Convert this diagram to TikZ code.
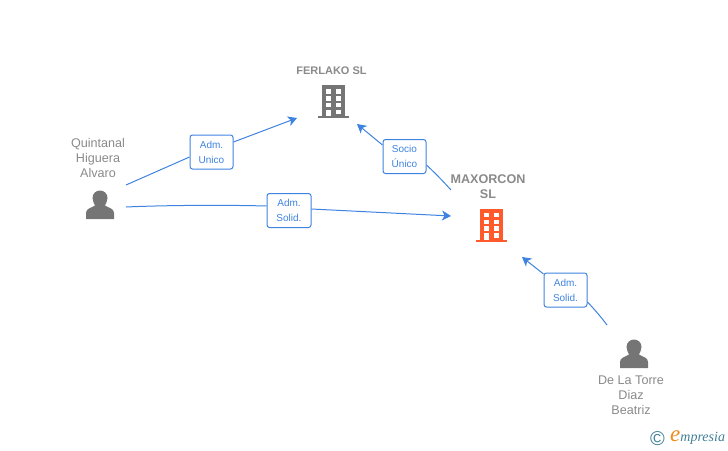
\documentclass[tikz,border=0pt]{standalone}
\usepackage{fontspec}
\setmainfont{Liberation Sans}
\newfontfamily\logofont{Liberation Serif}
\usetikzlibrary{arrows.meta}
\definecolor{linkblue}{HTML}{3F83E0}
\definecolor{labelgrey}{HTML}{8A8A8A}
\definecolor{icongrey}{HTML}{757575}
\definecolor{iconorange}{HTML}{FF5A2B}
\definecolor{logoteal}{HTML}{3F7F96}
\definecolor{logoorange}{HTML}{F08A1D}
\tikzset{
  x=1pt,y=-1pt,
  link/.style={draw=linkblue,line width=1pt},
  linkarrow/.style={link,-{Stealth[length=9pt,width=10pt,inset=2.5pt]}},
  tagbox/.style={draw=linkblue,fill=white,rounded corners=2.5pt,line width=1pt,minimum width=43pt,minimum height=34pt,inner sep=0pt,align=center,text=linkblue,font=\fontsize{10}{15}\selectfont},
  caption/.style={text=labelgrey,align=center,inner sep=0pt,font=\fontsize{12.6}{15}\selectfont},
  capbold/.style={caption,font=\fontsize{12.6}{15}\selectfont\bfseries},
  anchorbox/.style={inner sep=0pt,minimum width=34pt,minimum height=34pt},
  personicon/.pic={
    \fill[icongrey] (-14,14) -- (-14,8) .. controls (-14,3.5) and (-9,3) .. (-5,0.5) .. controls (-6,-2) and (-7.5,-4) .. (-7.5,-7)
      .. controls (-7.5,-11.5) and (-4,-14.5) .. (0,-14.5) .. controls (4,-14.5) and (7.5,-11.5) .. (7.5,-7)
      .. controls (7.5,-4) and (6,-2) .. (5,0.5) .. controls (9,3) and (14,3.5) .. (14,8) -- (14,14) -- cycle;
  },
  buildingicon/.pic={
    \fill[pic actions] (-11.5,-16.5) rectangle (11.5,15);
    \fill[pic actions] (-15.5,14.5) rectangle (15.5,16.5);
    \foreach \yy in {-12.5,-5.5,1}{
      \fill[white] (-7.5,\yy) rectangle (-2.5,\yy+4.5);
      \fill[white] (2.5,\yy) rectangle (7.5,\yy+4.5);
    }
    \fill[white] (2.5,8) rectangle (7.5,12.5);
    \fill[white] (-7.5,8) rectangle (-2.5,14.5);
  }
}
\begin{document}
\begin{tikzpicture}
\useasboundingbox (0,0) rectangle (728,450);
% icons
\node[anchorbox] (ferlako) at (333.5,101.5) {};
\pic[fill=icongrey] at (333.5,101.5) {buildingicon};
\node[anchorbox] (maxorcon) at (491,225) {};
\pic[fill=iconorange] at (491,225) {buildingicon};
\node[anchorbox] (quintanal) at (100,205) {};
\pic at (100,205) {personicon};
\node[anchorbox] (delatorre) at (634,354) {};
\pic at (634,354) {personicon};
% captions
\node[capbold,font=\fontsize{11}{15}\selectfont\bfseries] (capf) at (331.5,71) {FERLAKO SL};
\node[capbold] (capm) at (488,186.5) {MAXORCON\\SL};
\node[caption] (capq) at (98,158) {Quintanal\\Higuera\\Alvaro};
\node[caption] (capd) at (631,395.5) {De La Torre\\Diaz\\Beatriz};
% free ends of connectors
\coordinate (q1) at (126,185);
\coordinate (q2) at (126,207);
\coordinate (f1) at (297,118);
\coordinate (f2) at (357,124);
\coordinate (m1) at (451,216);
\coordinate (m2) at (451,190);
\coordinate (m3) at (522,257);
\coordinate (d1) at (607,325);
% label boxes
\node[tagbox,minimum width=43pt] (t1) at (211.5,152) {Adm.\\Unico};
\node[tagbox,minimum width=44pt] (t2) at (289,210.5) {Adm.\\Solid.};
\node[tagbox,minimum width=43pt] (t3) at (404.5,156.5) {Socio\\Único};
\node[tagbox,minimum width=43pt] (t4) at (565.5,290) {Adm.\\Solid.};
% connectors
\draw[link] (q1) -- (t1.west |- 0,157);
\draw[linkarrow] (t1.east |- 0,142) -- (f1);
\draw[link] (q2) .. controls (170,205) and (230,205) .. (t2.west |- 0,206);
\draw[linkarrow] (t2.east |- 0,209) -- (m1);
\draw[link] (m2) .. controls (442,180) and (434,172) .. (t3.east |- 0,165);
\draw[linkarrow] (t3.west |- 0,145) -- (f2);
\draw[link] (d1) .. controls (601,317) and (595,310) .. (t4.east |- 0,302);
\draw[linkarrow] (t4.west |- 0,274) -- (m3);
% logo
\node[inner sep=0pt,text=logoteal,font=\fontsize{20}{20}\selectfont] (copyr) at (657.5,438.5) {©};
\node[inner sep=0pt,anchor=west,font=\logofont\itshape\fontsize{14}{14}\selectfont,text=logoteal] (brand) at (670,438) {{\textcolor{logoorange}{\fontsize{23}{23}\selectfont e}}mpresia};
\end{tikzpicture}
\end{document}
